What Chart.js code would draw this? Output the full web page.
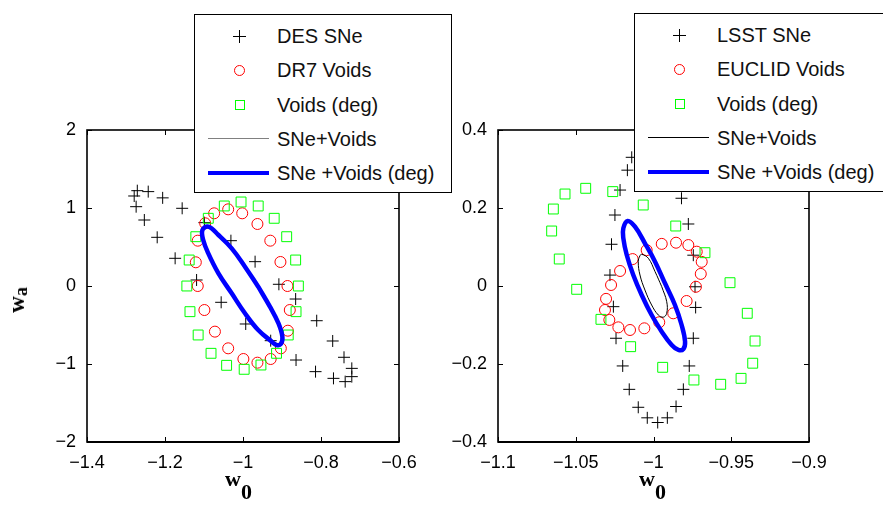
<!DOCTYPE html>
<html>
<head>
<meta charset="utf-8">
<script src="https://cdn.jsdelivr.net/npm/chart.js@4.4.0/dist/chart.umd.min.js"></script>
<style>
  body { margin: 0; width: 883px; height: 512px; overflow: hidden; background: #fff; position: relative; font-family: "Liberation Sans", Arial, sans-serif; }
  canvas { position: absolute; top: 0; }
  .legend { position: absolute; background: #fff; border: 1.5px solid #000; box-sizing: border-box; height: 179px; }
  .row { position: absolute; left: 0; width: 100%; height: 30px; }
  .row span { position: absolute; top: 0; line-height: 30px; font-size: 20px; color: #111; white-space: nowrap; }
  .mk { position: absolute; box-sizing: border-box; }
  .title { position: absolute; font-family: "Liberation Serif", "Times New Roman", serif; font-weight: bold; color: #000; white-space: nowrap; }
  .title .sub { position: relative; }
</style>
</head>
<body>
<canvas id="left" width="441" height="512" style="left:0"></canvas>
<canvas id="right" width="442" height="512" style="left:441px"></canvas>

<div class="title" style="left:225px; top:466px; font-size:22px;">w<span class="sub" style="top:13px">0</span></div>
<div class="title" style="left:639px; top:466px; font-size:22px;">w<span class="sub" style="top:13px">0</span></div>
<div class="title" style="left:17px; top:300px; font-size:23px; transform: translate(-50%,-50%) rotate(-90deg);">w<span class="sub" style="top:3px; font-size:18px">a</span></div>

<script>
// ---- panneau gauche : DES + DR7 ----
const xTicksLeft = [-1.4, -1.2, -1, -0.8, -0.6];
const yTicksLeft = [-2, -1, 0, 1, 2];

const desSNe = [
  [-1.271, 1.222], [-1.279, 1.154], [-1.243, 1.21], [-1.206, 1.130], [-1.274, 1.017],
  [-1.156, 0.996], [-1.253, 0.846], [-1.220, 0.624], [-1.174, 0.355], [-1.119, 0.077],
  [-1.099, 0.812], [-1.031, 0.581], [-0.969, 0.312], [-0.908, 0.022], [-0.865, -0.167],
  [-1.056, -0.209], [-0.993, -0.487], [-0.811, -0.445], [-0.929, -0.701], [-0.770, -0.705],
  [-0.864, -0.949], [-0.741, -0.914], [-0.814, -1.098], [-0.768, -1.184], [-0.738, -1.226],
  [-0.721, -1.162], [-0.721, -1.056]
];
const dr7Voids = [
  [-1.074, 0.932], [-1.038, 0.983], [-1.002, 0.932], [-0.963, 0.795], [-0.930, 0.581],
  [-0.904, 0.308], [-0.886, 0.0], [-0.880, -0.308], [-0.885, -0.573], [-0.903, -0.799],
  [-0.929, -0.936], [-0.963, -0.983], [-0.999, -0.936], [-1.038, -0.799], [-1.072, -0.585],
  [-1.099, -0.308], [-1.116, 0.0], [-1.121, 0.304], [-1.116, 0.581], [-1.097, 0.804]
];
const voidsDegLeft = [
  [-1.048, 1.026], [-1.005, 1.077], [-0.961, 1.026], [-0.920, 0.868], [-0.888, 0.632],
  [-0.865, 0.333], [-0.858, 0.0], [-0.864, -0.329], [-0.884, -0.628], [-0.914, -0.863],
  [-0.954, -1.013], [-0.997, -1.068], [-1.042, -1.017], [-1.082, -0.863], [-1.115, -0.628],
  [-1.136, -0.329], [-1.144, 0.0], [-1.138, 0.333], [-1.121, 0.632], [-1.089, 0.868]
];
const degEllipseLeft = [
  [-0.961, -0.009], [-0.931, -0.265], [-0.909, -0.479], [-0.899, -0.650], [-0.903, -0.744],
  [-0.914, -0.756], [-0.926, -0.714], [-0.961, -0.564], [-0.995, -0.350], [-1.029, -0.094],
  [-1.063, 0.163], [-1.089, 0.419], [-1.102, 0.590], [-1.104, 0.718], [-1.089, 0.760],
  [-1.063, 0.654], [-1.029, 0.483], [-0.995, 0.248]
];

// ---- panneau droit : LSST + EUCLID ----
const xTicksRight = [-1.1, -1.05, -1, -0.95, -0.9];
const yTicksRight = [-0.4, -0.2, 0, 0.2, 0.4];

const lsstSNe = [
  [-1.014, 0.330], [-1.0168, 0.297], [-1.0215, 0.246], [-1.0248, 0.182], [-1.027, 0.107],
  [-1.028, 0.028], [-1.0258, -0.053], [-1.0241, -0.134], [-1.0198, -0.205], [-1.0156, -0.265],
  [-1.0098, -0.311], [-1.004, -0.338], [-0.9973, -0.350], [-0.9911, -0.338], [-0.9855, -0.309],
  [-0.9808, -0.265], [-0.977, -0.205], [-0.9744, -0.134], [-0.9729, -0.055], [-0.9733, -0.002],
  [-0.9744, 0.079], [-0.9776, 0.159], [-0.982, 0.225]
];
const euclidVoids = [
  [-1.0044, 0.092], [-0.9947, 0.108], [-0.9855, 0.111], [-0.9776, 0.105], [-0.9722, 0.088],
  [-0.969, 0.062], [-0.9696, 0.031], [-0.9727, -0.002], [-0.9787, -0.0385], [-0.9873, -0.070],
  [-0.9963, -0.093], [-1.0059, -0.1085], [-1.0151, -0.1128], [-1.0226, -0.106], [-1.0284, -0.087],
  [-1.0312, -0.0615], [-1.0305, -0.033], [-1.0273, 0.0026], [-1.0215, 0.0385], [-1.0134, 0.069]
];
const voidsDegRight = [
  [-1.0644, 0.1974], [-1.0569, 0.2359], [-1.0436, 0.2505], [-1.0262, 0.242], [-1.0066, 0.2077],
  [-0.9857, 0.1538], [-0.9669, 0.0854], [-0.9508, 0.0085], [-0.9397, -0.070], [-0.9347, -0.141],
  [-0.9362, -0.198], [-0.9437, -0.2368], [-0.9568, -0.252], [-0.974, -0.241], [-0.9941, -0.2085],
  [-1.0147, -0.1556], [-1.0338, -0.0855], [-1.0494, -0.0085], [-1.0606, 0.0692], [-1.0655, 0.141]
];
const sneVoidsRight = [
  [-0.9947, -0.0017], [-0.9915, -0.0402], [-0.9915, -0.070], [-0.9937, -0.080], [-0.9969, -0.0744],
  [-1.0012, -0.0487], [-1.0055, -0.0103], [-1.0087, 0.0282], [-1.0098, 0.0624], [-1.0087, 0.0777],
  [-1.0076, 0.0813], [-1.0033, 0.0710], [-0.999, 0.0368]
];
const degEllipseRight = [
  [-0.9926, 0.0069], [-0.9862, -0.0487], [-0.9819, -0.100], [-0.9797, -0.1428], [-0.9808, -0.1615],
  [-0.984, -0.164], [-0.9883, -0.1513], [-0.9947, -0.117], [-1.0012, -0.0744], [-1.0076, -0.0231],
  [-1.013, 0.0282], [-1.0172, 0.0795], [-1.0194, 0.1223], [-1.0194, 0.148], [-1.0166, 0.1667],
  [-1.0119, 0.152], [-1.0055, 0.1094], [-0.999, 0.0624]
];

// conversion [x, y] -> {x, y}
function pts(a) { return a.map(function(p) { return { x: p[0], y: p[1] }; }); }
// courbe fermée : on répète le premier point
function loop(a) { return pts(a.concat([a[0]])); }

function minus(v) { return String(v).replace('-', '\u2212'); }

// cadre + petites graduations intérieures (style matlab)
const boxPlugin = {
  id: 'box',
  afterDraw: function(chart) {
    const ctx = chart.ctx, a = chart.chartArea;
    const xs = chart.scales.x, ys = chart.scales.y, len = 5;
    ctx.save();
    ctx.strokeStyle = '#000';
    ctx.lineWidth = 1;
    ctx.beginPath();
    xs.ticks.forEach(function(t) {
      const px = Math.round(xs.getPixelForValue(t.value)) + 0.5;
      ctx.moveTo(px, a.bottom); ctx.lineTo(px, a.bottom - len);
      ctx.moveTo(px, a.top); ctx.lineTo(px, a.top + len);
    });
    ys.ticks.forEach(function(t) {
      const py = Math.round(ys.getPixelForValue(t.value)) + 0.5;
      ctx.moveTo(a.left, py); ctx.lineTo(a.left + len, py);
      ctx.moveTo(a.right, py); ctx.lineTo(a.right - len, py);
    });
    ctx.stroke();
    ctx.lineWidth = 1.6;
    ctx.strokeRect(a.left, a.top, a.right - a.left, a.bottom - a.top);
    // bas du cadre un peu plus épais
    ctx.lineWidth = 2.2;
    ctx.beginPath();
    ctx.moveTo(a.left, a.bottom); ctx.lineTo(a.right, a.bottom);
    ctx.stroke();
    ctx.restore();
  }
};

function makeChart(id, sets, xr, yr, xTicks, yTicks, yWidth, padRight) {
  const tickFont = { family: '"Liberation Sans", Arial, sans-serif', size: 18 };
  return new Chart(document.getElementById(id), {
    type: 'scatter',
    data: { datasets: sets },
    options: {
      responsive: false,
      animation: false,
      layout: { padding: { top: 130, left: 0, right: padRight, bottom: 0 } },
      plugins: { legend: { display: false }, tooltip: { enabled: false } },
      scales: {
        x: {
          type: 'linear', min: xr[0], max: xr[1],
          afterBuildTicks: function(s) { s.ticks = xTicks.map(function(v) { return { value: v }; }); },
          afterFit: function(s) { s.height = 70; },
          grid: { display: false, drawTicks: false },
          border: { display: false },
          ticks: { font: tickFont, color: '#000', padding: 10, maxRotation: 0, autoSkip: false, callback: minus }
        },
        y: {
          type: 'linear', min: yr[0], max: yr[1],
          afterBuildTicks: function(s) { s.ticks = yTicks.map(function(v) { return { value: v }; }); },
          afterFit: function(s) { s.width = yWidth; },
          grid: { display: false, drawTicks: false },
          border: { display: false },
          ticks: { font: tickFont, color: '#000', padding: 11, autoSkip: false, callback: minus }
        }
      }
    },
    plugins: [boxPlugin]
  });
}

function markerSets(snLabel, sn, voidLabel, voids, deg, lineColor, thin, thick) {
  return [
    { label: snLabel, data: pts(sn), pointStyle: 'cross', pointRadius: 6, borderColor: '#000', borderWidth: 1, order: 4 },
    { label: voidLabel, data: pts(voids), pointStyle: 'circle', pointRadius: 5.5, borderColor: '#ff0000', backgroundColor: 'rgba(0,0,0,0)', borderWidth: 1, order: 3 },
    { label: 'Voids (deg)', data: pts(deg), pointStyle: 'rect', pointRadius: 7, borderColor: '#00ff00', backgroundColor: 'rgba(0,0,0,0)', borderWidth: 1, order: 2 },
    { label: 'SNe+Voids', data: thin, showLine: true, tension: 0.4, pointRadius: 0, borderColor: lineColor, borderWidth: 1, fill: false, order: 1 },
    { label: 'SNe +Voids (deg)', data: thick, showLine: true, tension: 0.4, pointRadius: 0, borderColor: '#0000ff', borderWidth: 4.5, fill: false, order: 0 }
  ];
}

const leftChart = makeChart('left',
  markerSets('DES SNe', desSNe, 'DR7 Voids', dr7Voids, voidsDegLeft, '#808080', [], loop(degEllipseLeft)),
  [-1.4, -0.6], [-2, 2], xTicksLeft, yTicksLeft, 87, 42);

const rightChart = makeChart('right',
  markerSets('LSST SNe', lsstSNe, 'EUCLID Voids', euclidVoids, voidsDegRight, '#000', loop(sneVoidsRight), loop(degEllipseRight)),
  [-1.1, -0.9], [-0.4, 0.4], xTicksRight, yTicksRight, 57, 74);

// légende html construite depuis les datasets
function makeLegend(chart, left, top) {
  const box = document.createElement('div');
  box.className = 'legend';
  box.style.left = left + 'px';
  box.style.top = top + 'px';
  box.style.width = '258px';
  chart.data.datasets.forEach(function(ds, i) {
    const row = document.createElement('div');
    row.className = 'row';
    row.style.top = (6 + i * 34.3) + 'px';
    const mk = document.createElement('div');
    mk.className = 'mk';
    if (ds.showLine) {
      mk.style.left = '13px'; mk.style.width = '61px';
      mk.style.top = (15 - ds.borderWidth / 2) + 'px';
      mk.style.height = ds.borderWidth + 'px';
      mk.style.background = ds.borderColor;
    } else if (ds.pointStyle === 'cross') {
      mk.style.left = '38px'; mk.style.top = '9px'; mk.style.width = '13px'; mk.style.height = '13px';
      mk.style.background = 'linear-gradient(#000,#000) center/13px 1px no-repeat, linear-gradient(#000,#000) center/1px 13px no-repeat';
    } else {
      const s = ds.pointStyle === 'circle' ? 11 : 10;
      mk.style.left = (44.5 - s / 2) + 'px'; mk.style.top = (15.5 - s / 2) + 'px';
      mk.style.width = s + 'px'; mk.style.height = s + 'px';
      mk.style.border = '1px solid ' + ds.borderColor;
      if (ds.pointStyle === 'circle') mk.style.borderRadius = '50%';
    }
    const txt = document.createElement('span');
    txt.style.left = '82px';
    txt.textContent = ds.label;
    row.appendChild(mk);
    row.appendChild(txt);
    box.appendChild(row);
  });
  document.body.appendChild(box);
}

makeLegend(leftChart, 194, 14);
makeLegend(rightChart, 634, 13);
</script>
</body>
</html>
